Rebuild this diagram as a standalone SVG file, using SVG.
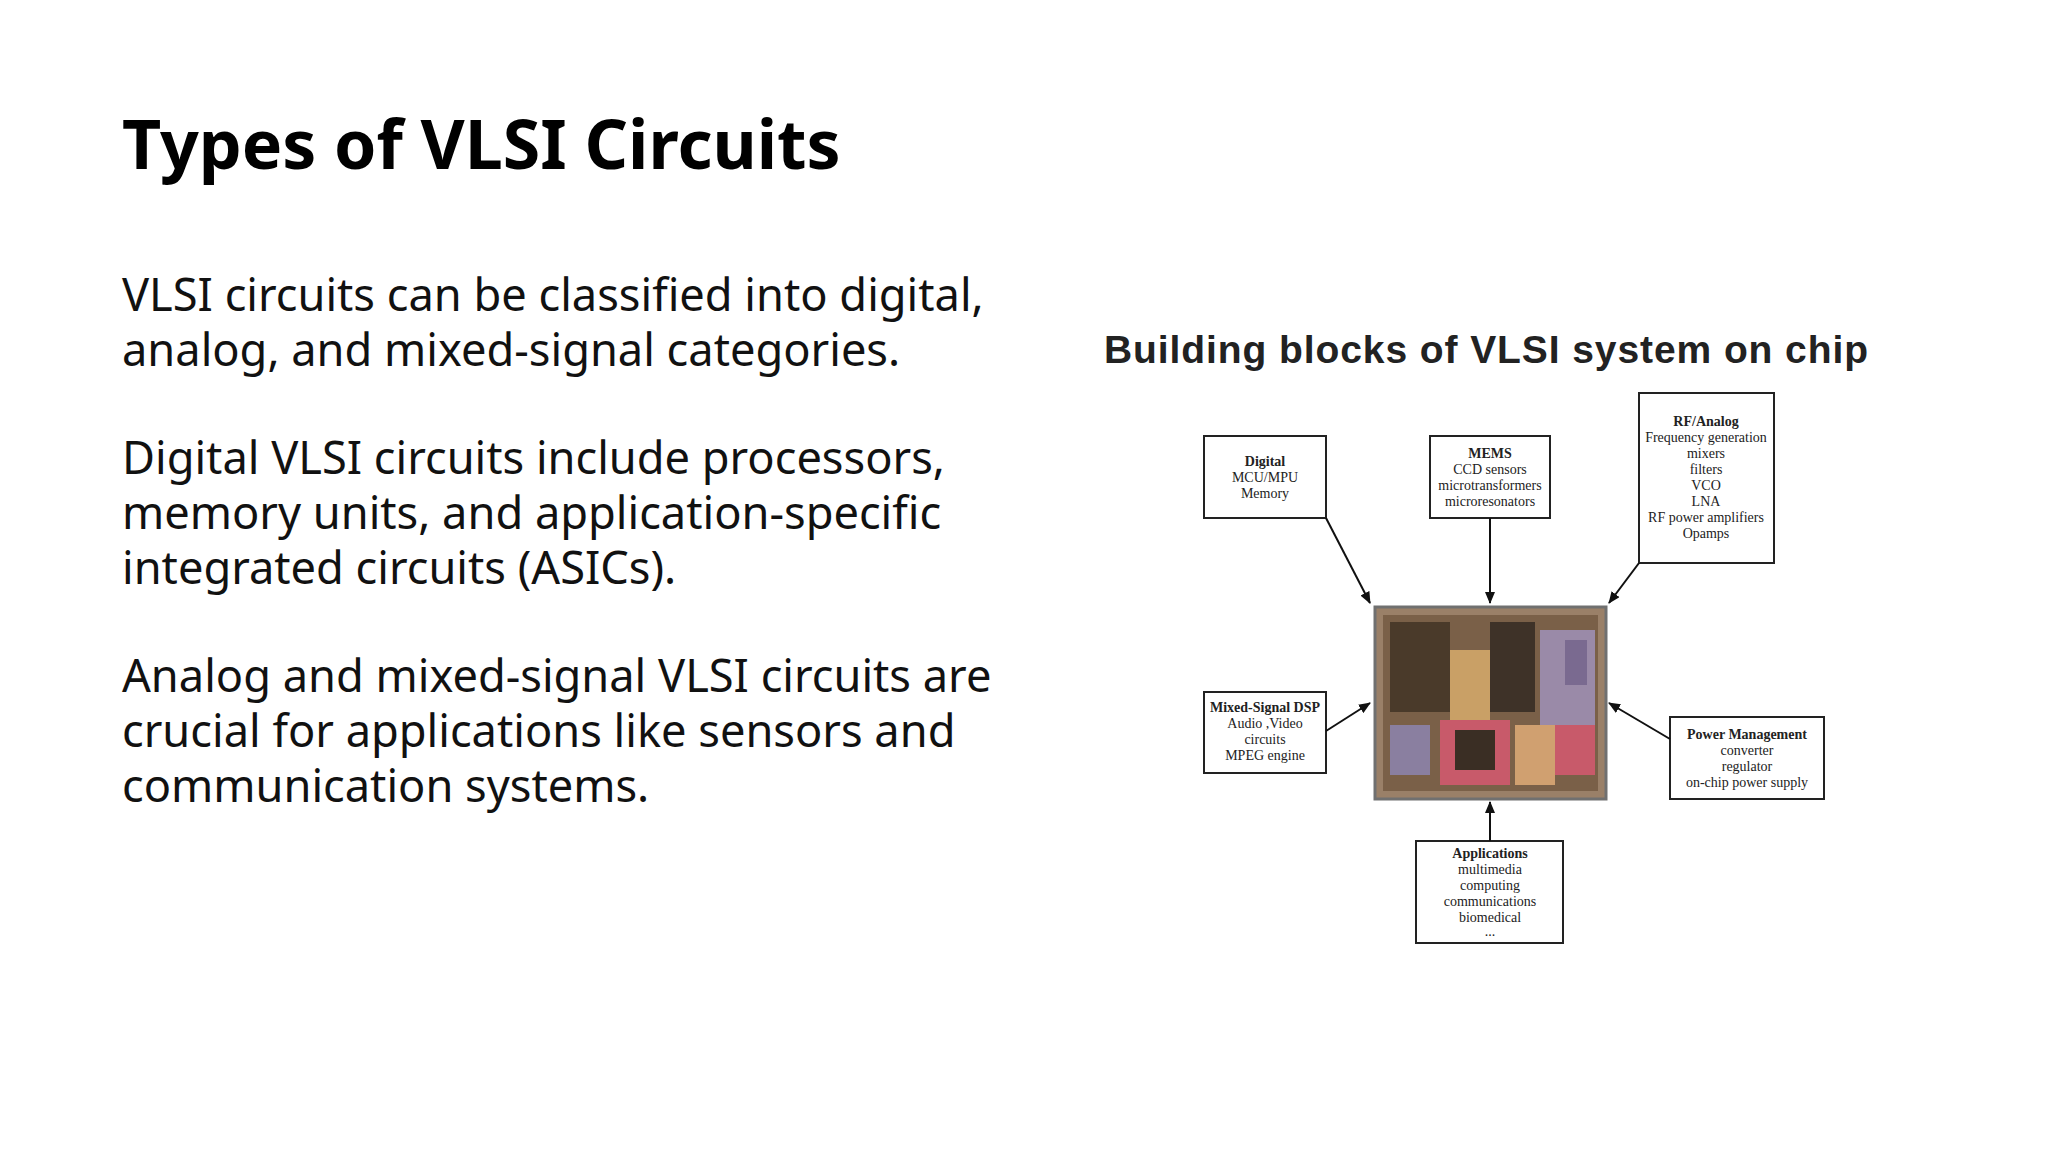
<svg xmlns="http://www.w3.org/2000/svg" width="2048" height="1152" viewBox="0 0 2048 1152">
<style>
.h{font-family:"Noto Sans",sans-serif;font-weight:700;font-size:68px;fill:#000}
.b{font-family:"Noto Sans",sans-serif;font-size:45.2px;fill:#111}
.t{font-family:"Liberation Sans",Arial,sans-serif;font-weight:700;font-size:39px;fill:#222}
.box{fill:#fff;stroke:#222;stroke-width:2}
.n{font-family:"Liberation Serif",serif;font-size:14px;fill:#222;text-anchor:middle}
.nb{font-weight:700}
.c{stroke:#111;stroke-width:2;fill:none;marker-end:url(#a)}
</style>
<defs><marker id="a" markerWidth="12" markerHeight="10" refX="11" refY="5" orient="auto" markerUnits="userSpaceOnUse"><path d="M0,0L12,5L0,10z" fill="#111"/></marker></defs>
<rect width="2048" height="1152" fill="#fff"/>
<text class="h" x="122" y="169">Types of VLSI Circuits</text>
<text class="b" x="122" y="311">VLSI circuits can be classified into digital,</text>
<text class="b" x="122" y="366">analog, and mixed-signal categories.</text>
<text class="b" x="122" y="474">Digital VLSI circuits include processors,</text>
<text class="b" x="122" y="529">memory units, and application-specific</text>
<text class="b" x="122" y="584">integrated circuits (ASICs).</text>
<text class="b" x="122" y="692">Analog and mixed-signal VLSI circuits are</text>
<text class="b" x="122" y="747">crucial for applications like sensors and</text>
<text class="b" x="122" y="802">communication systems.</text>
<text class="t" x="1104" y="363" textLength="764">Building blocks of VLSI system on chip</text>
<g id="chip">
<rect x="1375" y="607" width="231" height="192" fill="#9a8068" stroke="#707070" stroke-width="3"/>
<rect x="1383" y="615" width="215" height="176" fill="#7a6048"/>
<rect x="1390" y="622" width="60" height="90" fill="#4a3a2a"/>
<rect x="1450" y="650" width="40" height="70" fill="#c9a066"/>
<rect x="1490" y="622" width="45" height="90" fill="#3e3228"/>
<rect x="1540" y="630" width="55" height="95" fill="#9a8aa8"/>
<rect x="1440" y="720" width="70" height="65" fill="#c85a6a"/>
<rect x="1455" y="730" width="40" height="40" fill="#3a2e24"/>
<rect x="1515" y="725" width="40" height="60" fill="#d0a070"/>
<rect x="1555" y="725" width="40" height="50" fill="#c85a6a"/>
<rect x="1390" y="725" width="40" height="50" fill="#8a7fa0"/>
<rect x="1565" y="640" width="22" height="45" fill="#7a6a90"/>
</g>
<g id="digital"><rect class="box" x="1204" y="436" width="122" height="82"/>
<text class="n" x="1265" y="466"><tspan class="nb">Digital</tspan><tspan x="1265" dy="16">MCU/MPU</tspan><tspan x="1265" dy="16">Memory</tspan></text></g>
<g id="mems"><rect class="box" x="1430" y="436" width="120" height="82"/>
<text class="n" x="1490" y="458"><tspan class="nb">MEMS</tspan><tspan x="1490" dy="16">CCD sensors</tspan><tspan x="1490" dy="16">microtransformers</tspan><tspan x="1490" dy="16">microresonators</tspan></text></g>
<g id="rf"><rect class="box" x="1639" y="393" width="135" height="170"/>
<text class="n" x="1706" y="426"><tspan class="nb">RF/Analog</tspan><tspan x="1706" dy="16">Frequency generation</tspan><tspan x="1706" dy="16">mixers</tspan><tspan x="1706" dy="16">filters</tspan><tspan x="1706" dy="16">VCO</tspan><tspan x="1706" dy="16">LNA</tspan><tspan x="1706" dy="16">RF power amplifiers</tspan><tspan x="1706" dy="16">Opamps</tspan></text></g>
<g id="mixed"><rect class="box" x="1204" y="692" width="122" height="81"/>
<text class="n" x="1265" y="712"><tspan class="nb">Mixed-Signal DSP</tspan><tspan x="1265" dy="16">Audio ,Video</tspan><tspan x="1265" dy="16">circuits</tspan><tspan x="1265" dy="16">MPEG engine</tspan></text></g>
<g id="power"><rect class="box" x="1670" y="717" width="154" height="82"/>
<text class="n" x="1747" y="739"><tspan class="nb">Power Management</tspan><tspan x="1747" dy="16">converter</tspan><tspan x="1747" dy="16">regulator</tspan><tspan x="1747" dy="16">on-chip power supply</tspan></text></g>
<g id="apps"><rect class="box" x="1416" y="841" width="147" height="102"/>
<text class="n" x="1490" y="858"><tspan class="nb">Applications</tspan><tspan x="1490" dy="16">multimedia</tspan><tspan x="1490" dy="16">computing</tspan><tspan x="1490" dy="16">communications</tspan><tspan x="1490" dy="16">biomedical</tspan><tspan x="1490" dy="14">...</tspan></text></g>
<g id="connectors">
<path class="c" d="M1326,518L1370,603"/>
<path class="c" d="M1490,518L1490,603"/>
<path class="c" d="M1639,563L1609,603"/>
<path class="c" d="M1326,731L1370,703"/>
<path class="c" d="M1670,739L1609,703"/>
<path class="c" d="M1490,841L1490,802"/>
</g>
</svg>
